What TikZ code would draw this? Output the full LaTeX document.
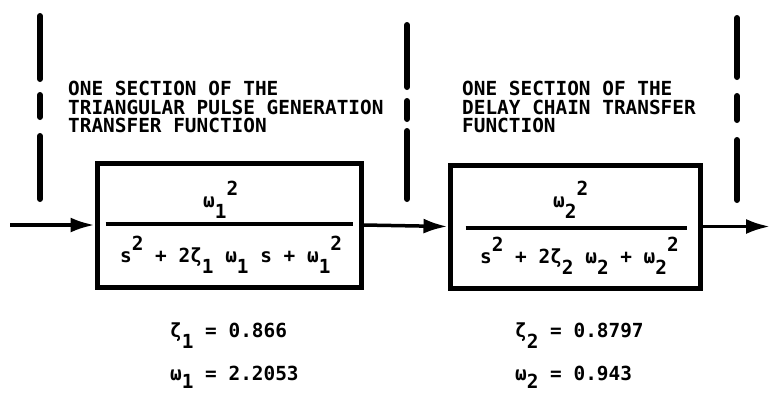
\documentclass[tikz,border=0pt]{standalone}
\usepackage{fontspec}
\setmainfont{DejaVu Sans Mono}
\usetikzlibrary{arrows.meta}
\newcommand\hiidx[1]{\raisebox{12pt}{#1}}
\newcommand\loidx[1]{\raisebox{-11pt}{#1}}
\tikzset{
  >={Latex[length=24pt,width=15pt]},
  lettering/.style={font=\fontsize{19.4}{18.5}\selectfont\bfseries,inner sep=0pt,align=left},
  tfbox/.style={draw,line width=5pt,inner sep=0pt},
  signal/.style={->,line width=3.5pt},
  divider/.style={line width=6pt,line cap=round},
  barline/.style={line width=3.5pt},
}
\begin{document}
\begin{tikzpicture}[x=1pt,y=-1pt]
  \useasboundingbox (0,0) rectangle (771,392);
  % section boundaries
  \foreach \x/\ya/\yb/\yc/\yd/\ye/\yf in {40/16/79/95/117/136/199,407/25/87/101/119/131/199,737/18/77/96/120/140/200}
    \draw[divider] (\x,\ya) -- (\x,\yb) (\x,\yc) -- (\x,\yd) (\x,\ye) -- (\x,\yf);
  \node[lettering,anchor=north west] (title1) at (68,81) {ONE SECTION OF THE\\TRIANGULAR PULSE GENERATION\\TRANSFER FUNCTION};
  \node[lettering,anchor=north west] (title2) at (462,81) {ONE SECTION OF THE\\DELAY CHAIN TRANSFER\\FUNCTION};
  \node[tfbox,minimum width=264pt,minimum height=124pt] (pulse) at (229,225) {};
  \node[tfbox,minimum width=250pt,minimum height=123pt] (delay) at (575,226.5) {};
  \draw[barline] ([xshift=11pt,yshift=1pt]pulse.west) -- ([xshift=-11pt,yshift=1pt]pulse.east);
  \draw[barline] ([xshift=18pt,yshift=-1.5pt]delay.west) -- ([xshift=-16pt,yshift=-1.5pt]delay.east);
  \node[lettering,anchor=base west] (num1) at (203,207) {ω\loidx{1}\hiidx{2}};
  \node[lettering,anchor=base west] (den1) at (120,262) {s\hiidx{2} + 2ζ\loidx{1} ω\loidx{1} s + ω\loidx{1}\hiidx{2}};
  \node[lettering,anchor=base west] (num2) at (553,207) {ω\loidx{2}\hiidx{2}};
  \node[lettering,anchor=base west] (den2) at (480,263) {s\hiidx{2} + 2ζ\loidx{2} ω\loidx{2} + ω\loidx{2}\hiidx{2}};
  \node[lettering,anchor=base west] (zeta1) at (170,337) {ζ\loidx{1} = 0.866};
  \node[lettering,anchor=base west] (omega1) at (170,380) {ω\raisebox{-8pt}{1} = 2.2053};
  \node[lettering,anchor=base west] (zeta2) at (515,337) {ζ\loidx{2} = 0.8797};
  \node[lettering,anchor=base west] (omega2) at (515,380) {ω\raisebox{-8pt}{2} = 0.943};
  \coordinate (in) at (10,225);
  \coordinate (out) at (770,226.5);
  \draw[signal] (in) -- (pulse.west);
  \draw[signal] (pulse.east) -- (delay.west);
  \draw[signal] (delay.east) -- (out);
\end{tikzpicture}
\end{document}
